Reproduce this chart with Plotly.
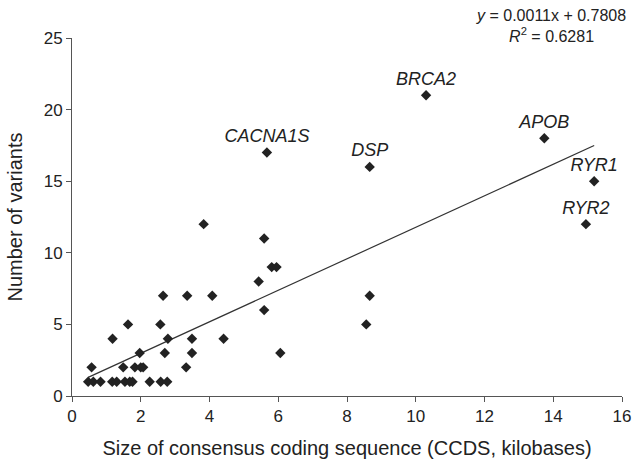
import numpy as np
import plotly.graph_objects as go

# Unlabelled genes: CCDS size (kb) and number of variants
size_kb = [0.47, 0.62, 0.83, 1.17, 1.30, 1.54, 1.68, 1.76, 2.26, 2.58, 2.77,
           0.57, 1.49, 1.83, 2.00, 2.07, 3.32,
           1.97, 2.70, 3.49, 6.06,
           1.18, 2.79, 3.49, 4.41,
           1.63, 2.57, 8.56,
           5.59,
           2.65, 3.35, 4.08, 8.66,
           5.43,
           5.81, 5.95,
           5.59,
           3.83]
variants = [1, 1, 1, 1, 1, 1, 1, 1, 1, 1, 1,
            2, 2, 2, 2, 2, 2,
            3, 3, 3, 3,
            4, 4, 4, 4,
            5, 5, 5,
            6,
            7, 7, 7, 7,
            8,
            9, 9,
            11,
            12]

# Labelled genes
gene_names = ["CACNA1S", "DSP", "BRCA2", "APOB", "RYR1", "RYR2"]
gene_size_kb = [5.67, 8.66, 10.30, 13.74, 15.19, 14.95]
gene_variants = [17, 16, 21, 18, 15, 12]

# Linear fit reported on the chart (x in bases)
slope_per_base = 0.0011
intercept = 0.7808
r_squared = 0.6281

x_ticks = [0, 2, 4, 6, 8, 10, 12, 14, 16]
y_ticks = [0, 5, 10, 15, 20, 25]

all_x = np.array(size_kb + gene_size_kb)
fit_x = np.array([all_x.min(), all_x.max()])
fit_y = slope_per_base * fit_x * 1000 + intercept

font_family = "Liberation Sans, Arial, Helvetica, sans-serif"
ink = "#222222"

fig = go.Figure()
fig.add_trace(go.Scatter(x=fit_x, y=fit_y, mode="lines",
                         line=dict(color="#333333", width=1.2),
                         hoverinfo="skip", showlegend=False))
fig.add_trace(go.Scatter(x=size_kb, y=variants, mode="markers",
                         marker=dict(symbol="diamond", size=8, color=ink),
                         showlegend=False))
fig.add_trace(go.Scatter(x=gene_size_kb, y=gene_variants, mode="markers+text",
                         text=["<i>%s</i>" % g for g in gene_names],
                         textposition="top center",
                         textfont=dict(family=font_family, size=18, color=ink),
                         marker=dict(symbol="diamond", size=8, color=ink),
                         showlegend=False))

fig.add_annotation(
    xref="paper", yref="paper", x=1.01, y=1.0, xanchor="right", yanchor="bottom",
    yshift=-9,
    text="<i>y</i> = %.4fx + %.4f<br><i>R</i><sup>2</sup> = %.4f" % (slope_per_base, intercept, r_squared),
    showarrow=False, align="center",
    font=dict(family=font_family, size=16, color=ink),
)

axis_common = dict(showgrid=False, zeroline=False, showline=True,
                   linecolor="#555555", linewidth=1, ticks="outside",
                   ticklen=5, tickcolor="#555555", automargin=False,
                   tickfont=dict(family=font_family, size=17, color=ink))

fig.update_xaxes(range=[0, 16], tickvals=x_ticks,
                 title=dict(text="Size of consensus coding sequence (CCDS, kilobases)",
                            font=dict(family=font_family, size=20, color=ink)),
                 **axis_common)
fig.update_yaxes(range=[0, 25], tickvals=y_ticks,
                 title=dict(text="Number of variants",
                            font=dict(family=font_family, size=20, color=ink)),
                 **axis_common)

fig.update_layout(width=637, height=459,
                  margin=dict(l=72, r=15, t=38, b=63),
                  plot_bgcolor="white", paper_bgcolor="white",
                  font=dict(family=font_family, color=ink))

fig.write_html("out.html", config={"displayModeBar": False},
               post_script="document.body.style.margin='0';")
